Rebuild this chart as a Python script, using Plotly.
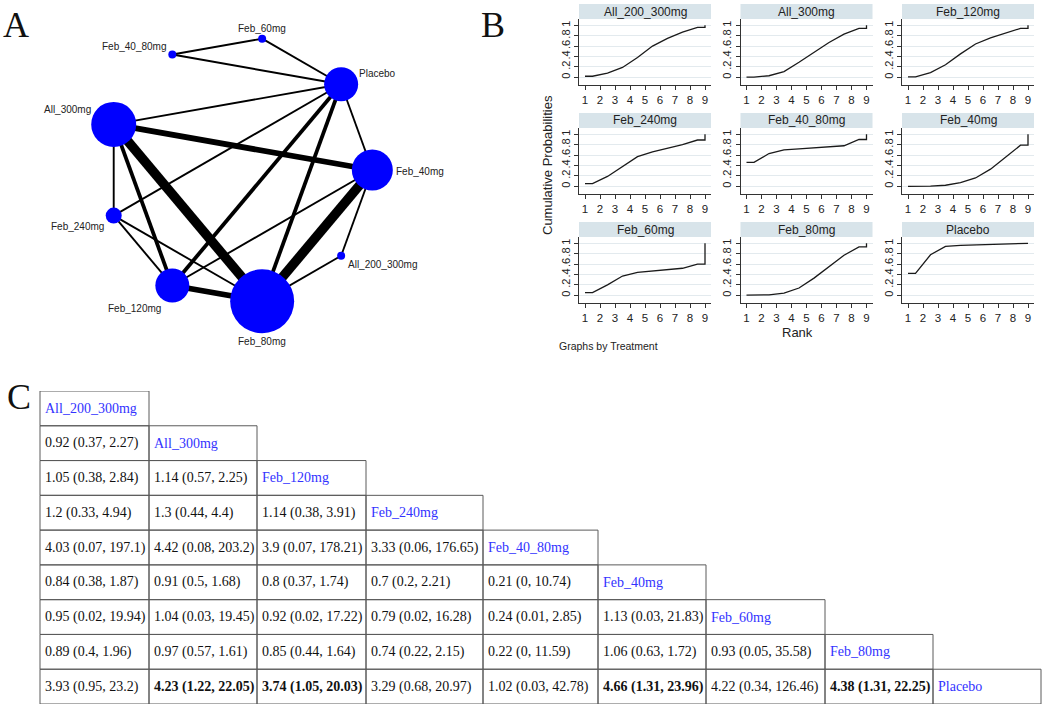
import math
import plotly.graph_objects as go

W, H = 1052, 706

# ---------------- data ----------------
treatments = ["All_200_300mg", "All_300mg", "Feb_120mg", "Feb_240mg", "Feb_40_80mg",
              "Feb_40mg", "Feb_60mg", "Feb_80mg", "Placebo"]

# Panel A: network (circle layout order, node sizes, edges with study counts)
network_order = ["Feb_60mg", "Placebo", "Feb_40mg", "All_200_300mg", "Feb_80mg",
                 "Feb_120mg", "Feb_240mg", "All_300mg", "Feb_40_80mg"]
node_diameter = [8, 34, 41, 8, 64, 34, 16, 45, 8]
edge_a = ["Feb_40_80mg", "Feb_60mg", "Feb_40_80mg", "Placebo", "Placebo", "Placebo",
          "Placebo", "Placebo", "All_300mg", "All_300mg", "All_300mg", "All_300mg",
          "Feb_40mg", "Feb_40mg", "Feb_40mg", "Feb_240mg", "Feb_240mg", "Feb_120mg",
          "All_200_300mg"]
edge_b = ["Feb_60mg", "Placebo", "Placebo", "All_300mg", "Feb_40mg", "Feb_240mg",
          "Feb_120mg", "Feb_80mg", "Feb_40mg", "Feb_80mg", "Feb_120mg", "Feb_240mg",
          "Feb_80mg", "Feb_120mg", "All_200_300mg", "Feb_120mg", "Feb_80mg", "Feb_80mg",
          "Feb_80mg"]
edge_studies = [1, 1, 1, 1, 1, 1, 2, 2, 3, 5, 2, 1, 5, 1, 1, 1, 1, 3, 1]

# Panel B: cumulative ranking probabilities (ranks 1..9), same order as treatments
ranks = [1, 2, 3, 4, 5, 6, 7, 8, 9]
cum_prob = [
    [0.02, 0.08, 0.19, 0.38, 0.60, 0.75, 0.87, 0.96, 1.0],   # All_200_300mg
    [0.005, 0.03, 0.11, 0.29, 0.48, 0.67, 0.83, 0.94, 1.0],  # All_300mg
    [0.01, 0.09, 0.24, 0.45, 0.64, 0.76, 0.85, 0.94, 1.0],   # Feb_120mg
    [0.05, 0.19, 0.38, 0.57, 0.66, 0.73, 0.80, 0.89, 1.0],   # Feb_240mg
    [0.46, 0.63, 0.70, 0.72, 0.74, 0.76, 0.78, 0.90, 1.0],   # Feb_40_80mg
    [0.0, 0.005, 0.02, 0.07, 0.16, 0.33, 0.56, 0.79, 1.0],   # Feb_40mg
    [0.05, 0.20, 0.37, 0.44, 0.47, 0.49, 0.52, 0.60, 1.0],   # Feb_60mg
    [0.005, 0.01, 0.04, 0.14, 0.33, 0.55, 0.77, 0.93, 1.0],  # Feb_80mg
    [0.42, 0.78, 0.94, 0.96, 0.97, 0.98, 0.99, 0.995, 1.0],  # Placebo
]
y_tick_vals = [0, 0.2, 0.4, 0.6, 0.8, 1]
y_tick_text = ["0", ".2", ".4", ".6", ".8", "1"]

# Panel C: league table (row treatment vs column treatment), rows 2..9
or_est = [
    [0.92],
    [1.05, 1.14],
    [1.2, 1.3, 1.14],
    [4.03, 4.42, 3.9, 3.33],
    [0.84, 0.91, 0.8, 0.7, 0.21],
    [0.95, 1.04, 0.92, 0.79, 0.24, 1.13],
    [0.89, 0.97, 0.85, 0.74, 0.22, 1.06, 0.93],
    [3.93, 4.23, 3.74, 3.29, 1.02, 4.66, 4.22, 4.38],
]
or_low = [
    [0.37],
    [0.38, 0.57],
    [0.33, 0.44, 0.38],
    [0.07, 0.08, 0.07, 0.06],
    [0.38, 0.5, 0.37, 0.2, 0],
    [0.02, 0.03, 0.02, 0.02, 0.01, 0.03],
    [0.4, 0.57, 0.44, 0.22, 0, 0.63, 0.05],
    [0.95, 1.22, 1.05, 0.68, 0.03, 1.31, 0.34, 1.31],
]
or_high = [
    [2.27],
    [2.84, 2.25],
    [4.94, 4.4, 3.91],
    [197.1, 203.2, 178.21, 176.65],
    [1.87, 1.68, 1.74, 2.21, 10.74],
    [19.94, 19.45, 17.22, 16.28, 2.85, 21.83],
    [1.96, 1.61, 1.64, 2.15, 11.59, 1.72, 35.58],
    [23.2, 22.05, 20.03, 20.97, 42.78, 23.96, 126.46, 22.25],
]

# ---------------- helpers / layout constants ----------------
SANS = "Liberation Sans, Arial, sans-serif"
SERIF = "Liberation Serif, Times New Roman, serif"


def px(x):
    return x / W


def py(y):
    return 1 - y / H


fig = go.Figure()
annotations = []
shapes = []
layout = {}

# ---------------- Panel A: network ----------------
n_nodes = len(network_order)
node_angle = [math.radians(10 + 360.0 / n_nodes * k) for k in range(n_nodes)]
node_x = {n: math.sin(a) for n, a in zip(network_order, node_angle)}
node_y = {n: math.cos(a) for n, a in zip(network_order, node_angle)}

for a, b, w in zip(edge_a, edge_b, edge_studies):
    fig.add_trace(go.Scatter(x=[node_x[a], node_x[b]], y=[node_y[a], node_y[b]],
                             mode="lines", line=dict(color="black", width=1.9 * w),
                             hoverinfo="skip", xaxis="x", yaxis="y", cliponaxis=False))
fig.add_trace(go.Scatter(x=[node_x[n] for n in network_order],
                         y=[node_y[n] for n in network_order],
                         mode="markers", text=network_order, cliponaxis=False,
                         marker=dict(color="#0000ff", size=node_diameter, opacity=1,
                                     line=dict(width=0)),
                         xaxis="x", yaxis="y"))

label_pos = {
    "Feb_60mg": ("center", "bottom", 0, 4),
    "Placebo": ("left", "middle", 17, 11),
    "Feb_40mg": ("left", "middle", 23, -1),
    "All_200_300mg": ("left", "middle", 6, -9),
    "Feb_80mg": ("center", "middle", 0, -40),
    "Feb_120mg": ("right", "middle", -10, -23),
    "Feb_240mg": ("right", "middle", -9, -11),
    "All_300mg": ("right", "middle", -22, 15),
    "Feb_40_80mg": ("right", "middle", -4, 8),
}
for n in network_order:
    xa, ya, dx, dy = label_pos[n]
    annotations.append(dict(x=node_x[n], y=node_y[n], xref="x", yref="y", text=n,
                            showarrow=False, xanchor=xa, yanchor=ya, xshift=dx, yshift=dy,
                            borderpad=0, font=dict(family=SANS, size=10, color="#222")))

layout["xaxis"] = dict(domain=[px(39), px(439)], range=[-1.5, 1.5], visible=False,
                       fixedrange=True)
layout["yaxis"] = dict(domain=[py(320), py(20)], range=[-1.125, 1.125], visible=False,
                       fixedrange=True)

# ---------------- Panel B: cumulative ranking plots ----------------
col_px = [(579, 711), (740.5, 872.5), (902, 1034)]
row_pitch = 109
for k, name in enumerate(treatments):
    r, c = divmod(k, 3)
    n = k + 2
    vals = cum_prob[k]
    xs = [ranks[0]] + [v + 0.5 for v in ranks[:-1]] + [ranks[-1], ranks[-1]]
    ys = [vals[0]] + vals[:-1] + [vals[-2], vals[-1]]
    fig.add_trace(go.Scatter(x=xs, y=ys, mode="lines",
                             line=dict(color="#1a1a1a", width=1.3),
                             xaxis=f"x{n}", yaxis=f"y{n}", hoverinfo="skip"))
    x0, x1 = col_px[c]
    top = 19 + row_pitch * r
    bottom = 85 + row_pitch * r
    layout[f"xaxis{n}"] = dict(domain=[px(x0), px(x1)], anchor=f"y{n}", range=[0.6, 9.4],
                               tickvals=ranks, showline=True, linecolor="#333", linewidth=1,
                               ticks="outside", ticklen=4, tickcolor="#333", showgrid=False,
                               zeroline=False, fixedrange=True,
                               tickfont=dict(family=SANS, size=11.5, color="#222"))
    layout[f"yaxis{n}"] = dict(domain=[py(bottom), py(top)], anchor=f"x{n}",
                               range=[-0.148, 1.121], tickvals=y_tick_vals,
                               ticktext=y_tick_text, tickangle=-90, showline=True,
                               linecolor="#333", linewidth=1, ticks="outside", ticklen=4,
                               tickcolor="#333", showgrid=True, gridcolor="#e3eaee",
                               gridwidth=1, zeroline=False, fixedrange=True,
                               tickfont=dict(family=SANS, size=11, color="#222"))
    shapes.append(dict(type="rect", xref="paper", yref="paper", x0=px(x0), x1=px(x1),
                       y0=py(top), y1=py(4 + row_pitch * r), fillcolor="#d8e4ea",
                       line=dict(width=0), layer="below"))
    annotations.append(dict(x=px((x0 + x1) / 2), y=py(11.5 + row_pitch * r), xref="paper",
                            yref="paper", text=name, showarrow=False, xanchor="center",
                            yanchor="middle", font=dict(family=SANS, size=12, color="#222")))

annotations.append(dict(x=px(548), y=py(165), xref="paper", yref="paper",
                        text="Cumulative Probabilities", textangle=-90, showarrow=False,
                        xanchor="center", yanchor="middle",
                        font=dict(family=SANS, size=13, color="#222")))
annotations.append(dict(x=px(797), y=py(332), xref="paper", yref="paper", text="Rank",
                        showarrow=False, xanchor="center", yanchor="middle",
                        font=dict(family=SANS, size=13, color="#222")))
annotations.append(dict(x=px(557), y=py(346), xref="paper", yref="paper",
                        text="Graphs by Treatment", showarrow=False, xanchor="left",
                        yanchor="middle", font=dict(family=SANS, size=10.5, color="#222")))

# ---------------- Panel C: league table ----------------
col_edges = [40, 149, 257, 366, 483, 598, 706, 825, 933, 1041]
n_t = len(treatments)
layout["xaxis11"] = dict(domain=[0, 1], range=[0, W], visible=False, anchor="y11",
                         fixedrange=True)
layout["yaxis11"] = dict(domain=[py(704), py(391)], range=[n_t, 0], visible=False,
                         anchor="x11", fixedrange=True)


def fmt(v):
    return f"{v:g}"


for i in range(n_t):
    for j in range(i + 1):
        shapes.append(dict(type="rect", xref="x11", yref="y11", x0=col_edges[j],
                           x1=col_edges[j + 1], y0=i, y1=i + 1,
                           line=dict(color="#5a5a5a", width=1), fillcolor="rgba(0,0,0,0)"))
        if j == i:
            txt = treatments[i]
            color = "#3333ff"
        else:
            e, lo, hi = or_est[i - 1][j], or_low[i - 1][j], or_high[i - 1][j]
            txt = f"{fmt(e)} ({fmt(lo)}, {fmt(hi)})"
            if lo > 1 or hi < 1:
                txt = f"<b>{txt}</b>"
            color = "#111"
        annotations.append(dict(x=col_edges[j] + 3, y=i + 0.5, xref="x11", yref="y11",
                                text=txt, showarrow=False, xanchor="left", yanchor="middle",
                                font=dict(family=SERIF, size=14, color=color)))

# ---------------- panel letters ----------------
for letter, (lx, ly) in {"A": (16, 25), "B": (493, 25), "C": (19, 397)}.items():
    annotations.append(dict(x=px(lx), y=py(ly), xref="paper", yref="paper", text=letter,
                            showarrow=False, xanchor="center", yanchor="middle",
                            font=dict(family=SERIF, size=36, color="#111")))

fig.update_layout(width=W, height=H, margin=dict(l=0, r=0, t=0, b=0),
                  paper_bgcolor="white", plot_bgcolor="white", showlegend=False,
                  annotations=annotations, shapes=shapes, **layout)

fig.write_html("out.html", config={"displayModeBar": False},
               post_script="document.body.style.margin='0';")
